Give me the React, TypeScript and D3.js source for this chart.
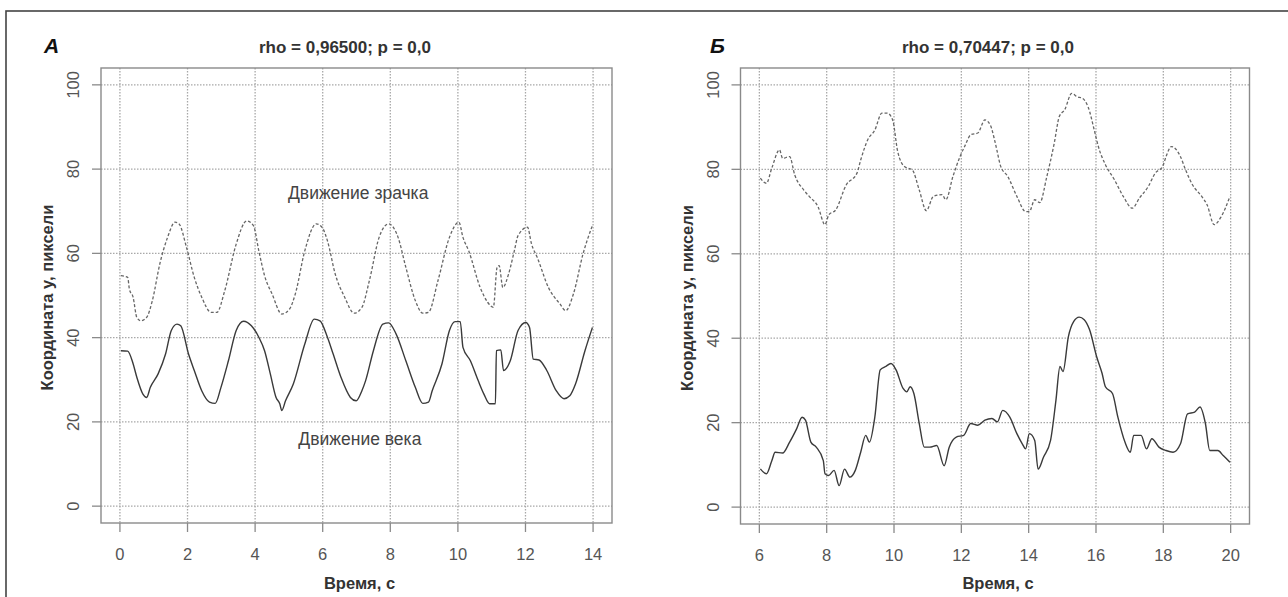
import React from "react";
import * as d3 from "d3";

// ---- Data ----
const xTicksA = [0, 2, 4, 6, 8, 10, 12, 14];
const xTicksB = [6, 8, 10, 12, 14, 16, 18, 20];
const yTicks = [0, 20, 40, 60, 80, 100];

const titleA = "rho = 0,96500; p = 0,0";
const titleB = "rho = 0,70447; p = 0,0";
const xLabel = "Время, с";
const yLabel = "Координата y, пиксели";
const pupilLabel = "Движение зрачка";
const lidLabel = "Движение века";

// Panel A: pupil (dashed) [time, y]
const pupilA: [number, number][] = [
  [0.03, 54.7], [0.23, 54.3], [0.28, 51.5], [0.39, 49.6], [0.5, 44.8], [0.62, 44], [0.79, 44.8],
  [0.96, 48.8], [1.18, 57.5], [1.41, 63.8], [1.63, 67.4], [1.75, 67], [1.97, 61.4], [2.2, 54.3],
  [2.42, 49.6], [2.7, 46], [2.87, 46], [3.1, 51.1], [3.44, 62.2], [3.75, 67.7], [3.95, 66.6],
  [4.11, 60.6], [4.28, 54.7], [4.5, 50.4], [4.79, 45.6], [5.02, 46.8], [5.19, 50.4], [5.47, 60.6],
  [5.81, 67], [5.98, 66.2], [6.14, 63], [6.37, 55.1], [6.65, 49.6], [6.93, 45.8], [7.16, 47.2],
  [7.38, 53.5], [7.67, 63.8], [7.95, 67], [8.23, 63.8], [8.46, 56.7], [8.74, 48.8], [8.96, 45.8],
  [9.13, 46], [9.41, 53.5], [9.75, 63.8], [10.03, 67.4], [10.15, 63.8], [10.32, 60.6], [10.66, 51.9],
  [10.88, 48.4], [11.05, 47.2], [11.16, 56.7], [11.22, 57.1], [11.33, 51.9], [11.5, 55.1],
  [11.67, 60.6], [11.78, 64.2], [12.06, 66.2], [12.18, 62.2], [12.35, 59], [12.68, 51.9],
  [13.02, 48], [13.19, 46.4], [13.42, 50.4], [13.7, 59.8], [13.98, 66.6],
];

// Panel A: eyelid (solid)
const lidA: [number, number][] = [
  [0.03, 36.9], [0.23, 36.8], [0.39, 33.8], [0.5, 30.6], [0.68, 26.6], [0.79, 25.8], [0.9, 28.2],
  [1.13, 31.4], [1.35, 36.1], [1.52, 41.7], [1.69, 43.2], [1.8, 42.8], [2.03, 36.1], [2.2, 32.2],
  [2.42, 27.4], [2.65, 24.7], [2.82, 24.4], [2.99, 28.2], [3.21, 34.5], [3.44, 41.7], [3.66, 43.9],
  [3.89, 42.8], [4.11, 40.1], [4.28, 36.9], [4.45, 31.4], [4.62, 25.8], [4.73, 24.3], [4.79, 22.7],
  [4.9, 25], [5.13, 29], [5.47, 38.5], [5.75, 44.4], [5.92, 44], [6.14, 40.1], [6.31, 36.1],
  [6.54, 30.6], [6.82, 25.8], [6.99, 25], [7.16, 27.4], [7.27, 29.8], [7.5, 36.9], [7.78, 43.2],
  [7.95, 43.5], [8.17, 40.9], [8.46, 34.5], [8.74, 28.2], [8.96, 24.4], [9.13, 24.7], [9.24, 27.4],
  [9.53, 33.8], [9.75, 41.7], [9.92, 43.8], [10.07, 43.8], [10.15, 37.7], [10.37, 34.5],
  [10.6, 29.8], [10.77, 26.6], [10.94, 24.3], [11.11, 24.3], [11.14, 36.9], [11.27, 37.1],
  [11.35, 32.2], [11.55, 34.5], [11.78, 41.7], [12.01, 43.6], [12.12, 42.4], [12.23, 34.9],
  [12.4, 34.7], [12.63, 32.2], [12.91, 27.4], [13.14, 25.5], [13.31, 26.2], [13.48, 29],
  [13.76, 36.9], [13.98, 42.4],
];

// Panel B: pupil (dashed)
const pupilB: [number, number][] = [
  [6.03, 77.9], [6.21, 76.7], [6.37, 80.3], [6.6, 84.6], [6.69, 82.6], [6.9, 83], [7.05, 78.7],
  [7.32, 75.1], [7.48, 73.6], [7.74, 71.2], [7.95, 66.9], [8.06, 69.2], [8.27, 70.4], [8.58, 76.3],
  [8.9, 79.1], [9.01, 82.2], [9.22, 87], [9.43, 89.3], [9.64, 93.3], [9.8, 93.3], [9.96, 91.7],
  [10.11, 84.2], [10.32, 80.6], [10.54, 79.9], [10.75, 75.1], [10.96, 70.2], [11.17, 73.6],
  [11.43, 74], [11.54, 72.8], [11.75, 78.3], [11.96, 83], [12.12, 85.8], [12.28, 88.2],
  [12.49, 88.6], [12.7, 91.7], [12.86, 90.5], [13.01, 86.2], [13.17, 80.7], [13.38, 78.3],
  [13.65, 73.6], [13.91, 70], [14.02, 70], [14.18, 72.8], [14.33, 72.1], [14.54, 78.3],
  [14.76, 86.2], [14.91, 92.5], [15.07, 94.1], [15.28, 98], [15.44, 97.2], [15.6, 96.8],
  [15.76, 94.9], [15.97, 88.6], [16.07, 85.4], [16.28, 81.1], [16.55, 77.5], [16.81, 73.6],
  [17.08, 70.8], [17.29, 73.2], [17.55, 75.9], [17.76, 79.1], [17.98, 80.7], [18.08, 83],
  [18.24, 85.4], [18.51, 83], [18.66, 79.9], [18.87, 76.3], [19.14, 73.6], [19.3, 71.6],
  [19.51, 66.9], [19.72, 68.8], [19.98, 73.6],
];

// Panel B: eyelid (solid)
const lidB: [number, number][] = [
  [6.03, 9.05], [6.21, 7.9], [6.37, 11], [6.47, 13], [6.69, 12.8], [6.9, 15.4], [7.11, 18.6],
  [7.27, 21.3], [7.37, 20.6], [7.53, 15.4], [7.69, 14.2], [7.9, 11], [7.95, 7.9], [8.06, 7.5],
  [8.22, 8.7], [8.37, 5.1], [8.53, 9], [8.69, 7.1], [8.85, 8.7], [9.01, 13], [9.16, 17],
  [9.27, 15.4], [9.43, 21.3], [9.59, 32.5], [9.75, 33.3], [9.91, 34], [10.06, 32.5], [10.27, 28.1],
  [10.38, 27.3], [10.48, 28.5], [10.59, 26.9], [10.75, 19.8], [10.9, 14.2], [11.06, 14.2],
  [11.27, 14.6], [11.49, 9.8], [11.64, 14.2], [11.85, 16.6], [12.07, 17], [12.28, 19.8],
  [12.49, 19.4], [12.7, 20.6], [12.91, 21], [13.07, 20.2], [13.23, 22.9], [13.44, 21.3],
  [13.65, 17.4], [13.81, 15], [13.91, 13.8], [14.02, 17.4], [14.18, 15.8], [14.28, 9],
  [14.44, 11.8], [14.65, 15.8], [14.81, 25.3], [14.93, 33.3], [15.02, 32.1], [15.18, 40.4],
  [15.34, 44], [15.5, 45], [15.65, 44.4], [15.81, 42], [16.02, 35.6], [16.18, 31.7], [16.28, 28.5],
  [16.49, 26.9], [16.65, 21.3], [16.86, 15.4], [17.02, 13], [17.12, 17], [17.34, 17], [17.5, 13.8],
  [17.66, 16.2], [17.87, 14.2], [18.08, 13.4], [18.29, 13], [18.51, 15], [18.72, 22.1],
  [18.93, 22.5], [19.09, 23.7], [19.25, 19.8], [19.38, 13.4], [19.62, 13.4], [19.78, 12.2],
  [19.98, 10.6],
];

const FONT = "'Liberation Sans', Arial, Helvetica, sans-serif";

type PanelProps = {
  left: number;
  right: number;
  top: number;
  bottom: number;
  xMin: number;
  xMax: number;
  xTicks: number[];
  title: string;
  titleX: number;
  letter: string;
  letterX: number;
  pupil: [number, number][];
  lid: [number, number][];
  annotations?: { text: string; x: number; y: number }[];
};

function Panel(p: PanelProps) {
  const pad = (p.xMax - p.xMin) * 0.04;
  const x = d3.scaleLinear().domain([p.xMin - pad, p.xMax + pad]).range([p.left, p.right]);
  const y = d3.scaleLinear().domain([-4, 104]).range([p.bottom, p.top]);
  const line = d3
    .line<[number, number]>()
    .x((d) => x(d[0]))
    .y((d) => y(d[1]))
    .curve(d3.curveMonotoneX);
  const gridColor = "#a8a8a8";
  const axisColor = "#8a8a8a";
  const cx = (p.left + p.right) / 2;
  const cy = (p.top + p.bottom) / 2;
  return (
    <g>
      {/* grid */}
      {p.xTicks.map((t) => (
        <line
          key={"gx" + t}
          x1={x(t)}
          x2={x(t)}
          y1={p.top}
          y2={p.bottom}
          stroke={gridColor}
          strokeWidth={1.3}
          strokeDasharray="1.5,1.5"
        />
      ))}
      {yTicks.map((t) => (
        <line
          key={"gy" + t}
          x1={p.left}
          x2={p.right}
          y1={y(t)}
          y2={y(t)}
          stroke={gridColor}
          strokeWidth={1.3}
          strokeDasharray="1.5,1.5"
        />
      ))}
      {/* box */}
      <rect
        x={p.left}
        y={p.top}
        width={p.right - p.left}
        height={p.bottom - p.top}
        fill="none"
        stroke={axisColor}
        strokeWidth={1.4}
      />
      {/* x ticks */}
      {p.xTicks.map((t) => (
        <g key={"xt" + t}>
          <line x1={x(t)} x2={x(t)} y1={p.bottom} y2={p.bottom + 9} stroke={axisColor} strokeWidth={1.3} />
          <text
            x={x(t)}
            y={p.bottom + 37}
            textAnchor="middle"
            fontSize={16.5}
            fill="#555"
            fontFamily={FONT}
          >
            {t}
          </text>
        </g>
      ))}
      {/* y ticks */}
      {yTicks.map((t) => (
        <g key={"yt" + t}>
          <line x1={p.left - 9} x2={p.left} y1={y(t)} y2={y(t)} stroke={axisColor} strokeWidth={1.3} />
          <text
            transform={`translate(${p.left - 22},${y(t)}) rotate(-90)`}
            textAnchor="middle"
            fontSize={16.5}
            fill="#555"
            fontFamily={FONT}
          >
            {t}
          </text>
        </g>
      ))}
      {/* curves */}
      <path d={line(p.pupil) || ""} fill="none" stroke="#666" strokeWidth={1.3} strokeDasharray="3,2" />
      <path d={line(p.lid) || ""} fill="none" stroke="#3a3a3a" strokeWidth={1.4} />
      {/* annotations */}
      {(p.annotations || []).map((a) => (
        <text
          key={a.text}
          x={x(a.x)}
          y={y(a.y)}
          textAnchor="middle"
          fontSize={17.5}
          fill="#444"
          fontFamily={FONT}
        >
          {a.text}
        </text>
      ))}
      {/* titles */}
      <text x={p.titleX} y={53} textAnchor="middle" fontSize={17} fontWeight="bold" fill="#333" fontFamily={FONT}>
        {p.title}
      </text>
      <text
        x={p.letterX}
        y={53}
        fontSize={21}
        fontWeight="bold"
        fontStyle="italic"
        fill="#111"
        fontFamily={FONT}
      >
        {p.letter}
      </text>
      <text x={cx + 3} y={589} textAnchor="middle" fontSize={16.5} fontWeight="bold" fill="#333" fontFamily={FONT}>
        {xLabel}
      </text>
      <text
        transform={`translate(${p.left - 48},${cy + 2}) rotate(-90)`}
        textAnchor="middle"
        fontSize={16.5}
        fontWeight="bold"
        fill="#333"
        fontFamily={FONT}
      >
        {yLabel}
      </text>
    </g>
  );
}

export default function App() {
  return (
    <svg
      width={1288}
      height={597}
      style={{ position: "absolute", left: 0, top: 0, background: "#fff" }}
    >
      <rect x={0} y={0} width={1288} height={597} fill="#fff" />
      <rect x={6} y={11} width={1300} height={620} fill="none" stroke="#444" strokeWidth={1.6} />
      <Panel
        left={101}
        right={612}
        top={68}
        bottom={523}
        xMin={0}
        xMax={14}
        xTicks={xTicksA}
        title={titleA}
        titleX={345}
        letter="A"
        letterX={44}
        pupil={pupilA}
        lid={lidA}
        annotations={[
          { text: pupilLabel, x: 7.05, y: 73 },
          { text: lidLabel, x: 7.1, y: 14.5 },
        ]}
      />
      <Panel
        left={740.5}
        right={1249.5}
        top={68}
        bottom={524}
        xMin={6}
        xMax={20}
        xTicks={xTicksB}
        title={titleB}
        titleX={988}
        letter="Б"
        letterX={710}
        pupil={pupilB}
        lid={lidB}
      />
    </svg>
  );
}
